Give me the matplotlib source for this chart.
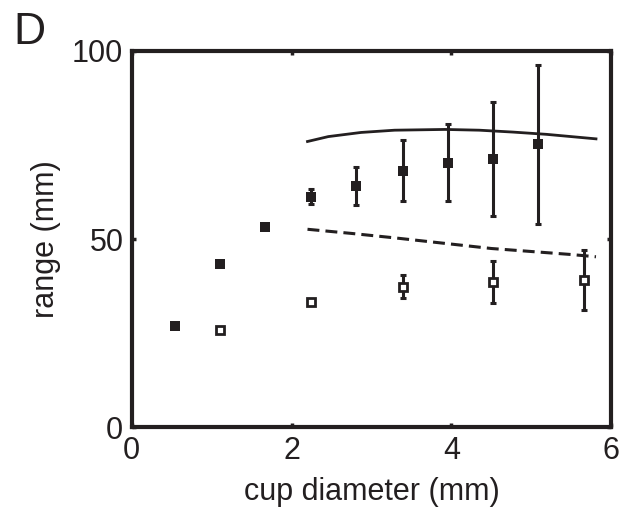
import numpy as np
import matplotlib
matplotlib.use("Agg")
import matplotlib.pyplot as plt

plt.rcParams['font.family'] = ['Liberation Sans', 'DejaVu Sans']

# Filled squares
filled_x = [0.54, 1.11, 1.67, 2.24, 2.81, 3.39, 3.96, 4.52, 5.09]
filled_y = [26.9, 43.3, 53.2, 61.2, 64.1, 68.2, 70.3, 71.2, 75.2]
filled_err = [0, 0, 0, 2.0, 5.0, 8.2, 10.2, 15.2, 21.1]

# Open squares
open_x = [1.11, 2.24, 3.39, 4.52, 5.66]
open_y = [25.8, 33.3, 37.4, 38.5, 39.1]
open_err = [0, 0, 3.0, 5.6, 8.0]

# Solid model curve
solid_x = [2.2, 2.46, 2.87, 3.29, 3.92, 4.35, 4.77, 5.19, 5.81]
solid_y = [75.9, 77.2, 78.3, 78.9, 79.1, 78.9, 78.4, 77.8, 76.6]

# Dashed model curve
dash_x = [2.2, 2.75, 3.3, 3.9, 4.5, 5.0, 5.5, 5.81]
dash_y = [52.6, 51.5, 50.3, 48.9, 47.5, 46.7, 45.9, 45.3]

xticks = [0, 2, 4, 6]
yticks = [0, 50, 100]

C = '#231f20'

fig = plt.figure(figsize=(6.23, 5.20), dpi=100)
ax = fig.add_axes([0.2114, 0.178, 0.7696, 0.7245])

ax.plot(solid_x, solid_y, '-', color=C, lw=2.0, zorder=2)
ax.plot(dash_x, dash_y, color=C, lw=2.2, linestyle=(0, (3.9, 2.0)), zorder=2)

fx = np.array(filled_x); fy = np.array(filled_y); fe = np.array(filled_err)
m = fe > 0
ax.errorbar(fx[m], fy[m], yerr=fe[m], fmt='none', ecolor=C, elinewidth=2.2,
            capsize=2.4, capthick=2.2, zorder=3)
ax.plot(fx, fy, 's', color=C, markersize=7.2, markeredgewidth=0, zorder=4)

ox = np.array(open_x); oy = np.array(open_y); oe = np.array(open_err)
m2 = oe > 0
ax.errorbar(ox[m2], oy[m2], yerr=oe[m2], fmt='none', ecolor=C, elinewidth=2.2,
            capsize=2.4, capthick=2.2, zorder=3)
ax.plot(ox, oy, 's', markerfacecolor='white', markeredgecolor=C,
        markersize=5.6, markeredgewidth=2.0, zorder=4)

ax.set_xlim(0, 6)
ax.set_ylim(0, 100)
ax.set_xticks(xticks)
ax.set_yticks(yticks)
ax.tick_params(direction='in', length=3, width=2.5, top=True, right=True,
               labelsize=22, pad=6, colors=C)
for s in ax.spines.values():
    s.set_linewidth(3.0)
    s.set_color(C)

ax.set_xlabel('cup diameter (mm)', fontsize=22, color=C, labelpad=8)
ax.set_ylabel('range (mm)', fontsize=22, color=C, labelpad=8)

fig.text(0.022, 0.915, 'D', fontsize=32, color=C, ha='left', va='baseline')

fig.savefig('out.png', dpi=100)
